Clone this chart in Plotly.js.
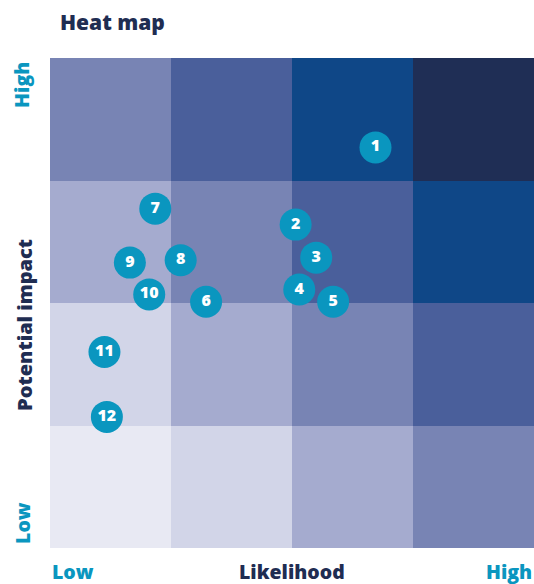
<!DOCTYPE html>
<html>
<head>
<meta charset="utf-8">
<script src="https://cdn.plot.ly/plotly-3.0.1.min.js"></script>
<style>html,body{margin:0;padding:0;background:#fff;}#chart{width:534px;height:584px;}</style>
</head>
<body>
<div id="chart"></div>
<script>
// Grid: likelihood (columns) x potential impact (rows), risk level per cell
const likelihoodEdges = [0, 1, 2, 3, 4];
const impactEdges = [0, 1, 2, 3, 4];
const heatLevels = [
  [0, 1, 2, 3], // low impact row
  [1, 2, 3, 4],
  [2, 3, 4, 5],
  [3, 4, 5, 6]  // high impact row
];
const levelColors = ['#e8e9f3', '#d2d5e8', '#a5abcf', '#7884b4', '#4a5f9b', '#0f4787', '#1f2e55'];

// Risks plotted on the map
const riskLabels = ['1', '2', '3', '4', '5', '6', '7', '8', '9', '10', '11', '12'];
const riskLikelihood = [2.69, 2.03, 2.20, 2.06, 2.34, 1.29, 0.87, 1.08, 0.66, 0.82, 0.45, 0.47];
const riskImpact = [3.27, 2.64, 2.37, 2.11, 2.01, 2.01, 2.77, 2.35, 2.33, 2.07, 1.60, 1.07];

const navy = '#1f2d52';
const teal = '#0a96bf';
const fontFam = '"Open Sans", "Noto Sans", sans-serif';

const colorscale = levelColors.map((c, i) => [i / (levelColors.length - 1), c]);

const heat = {
  type: 'heatmap',
  x: likelihoodEdges,
  y: impactEdges,
  z: heatLevels,
  zmin: 0,
  zmax: levelColors.length - 1,
  colorscale: colorscale,
  showscale: false,
  hoverinfo: 'skip'
};

const risks = {
  type: 'scatter',
  mode: 'markers+text',
  x: riskLikelihood,
  y: riskImpact,
  text: riskLabels,
  textposition: 'middle center',
  textfont: {family: fontFam, size: 16, color: '#ffffff', weight: 800},
  marker: {size: 32, color: teal, line: {width: 0}},
  hoverinfo: 'skip',
  cliponaxis: false
};

const axisCommon = {range: [0, 4], showgrid: false, zeroline: false, showticklabels: false, ticks: '', showline: false, fixedrange: true};

const layout = {
  width: 534,
  height: 584,
  margin: {l: 50, r: 0, t: 58, b: 36},
  paper_bgcolor: '#ffffff',
  plot_bgcolor: '#ffffff',
  showlegend: false,
  xaxis: Object.assign({}, axisCommon),
  yaxis: Object.assign({}, axisCommon),
  annotations: [
    {text: 'Heat map', xref: 'paper', yref: 'paper', x: 0.0165, y: 1.0735, xanchor: 'left', yanchor: 'middle', showarrow: false,
     font: {family: fontFam, size: 21, color: navy, weight: 800}},
    {text: 'Low', xref: 'paper', yref: 'paper', x: 0, y: -0.047, xanchor: 'left', yanchor: 'middle', showarrow: false,
     font: {family: fontFam, size: 19.5, color: teal, weight: 800}},
    {text: 'Likelihood', xref: 'paper', yref: 'paper', x: 0.5, y: -0.047, xanchor: 'center', yanchor: 'middle', showarrow: false,
     font: {family: fontFam, size: 19.5, color: navy, weight: 800}},
    {text: 'High', xref: 'paper', yref: 'paper', x: 1, y: -0.047, xanchor: 'right', yanchor: 'middle', showarrow: false,
     font: {family: fontFam, size: 19.5, color: teal, weight: 800}},
    {text: 'High', xref: 'paper', yref: 'paper', x: -0.058, y: 0.996, xanchor: 'center', yanchor: 'top', textangle: -90, showarrow: false,
     font: {family: fontFam, size: 19.5, color: teal, weight: 800}},
    {text: 'Potential impact', xref: 'paper', yref: 'paper', x: -0.054, y: 0.455, xanchor: 'center', yanchor: 'middle', textangle: -90, showarrow: false,
     font: {family: fontFam, size: 20, color: navy, weight: 800}},
    {text: 'Low', xref: 'paper', yref: 'paper', x: -0.058, y: 0.004, xanchor: 'center', yanchor: 'bottom', textangle: -90, showarrow: false,
     font: {family: fontFam, size: 19.5, color: teal, weight: 800}}
  ]
};

Plotly.newPlot('chart', [heat, risks], layout, {displayModeBar: false, staticPlot: true});
</script>
</body>
</html>
